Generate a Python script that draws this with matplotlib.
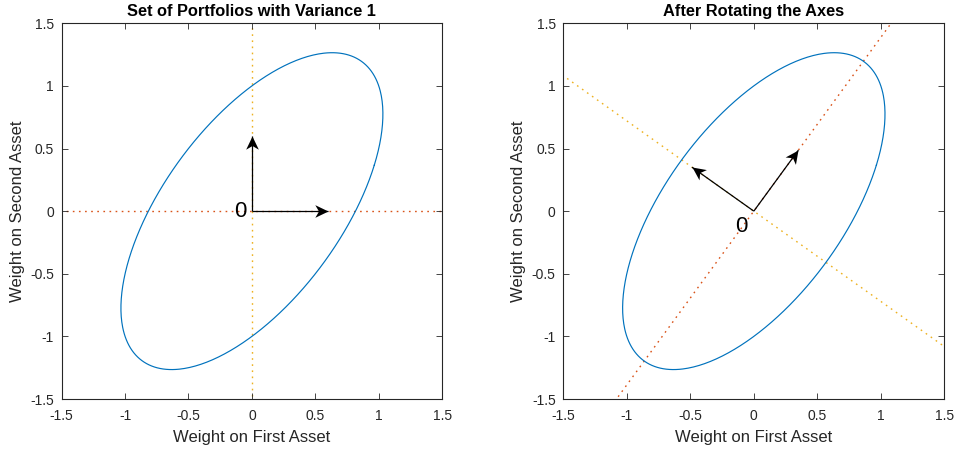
import numpy as np
import matplotlib
matplotlib.use("Agg")
import matplotlib.pyplot as plt
from matplotlib.markers import MarkerStyle
from matplotlib.path import Path
from matplotlib.transforms import Affine2D

plt.rcParams['font.family'] = ['Liberation Sans', 'DejaVu Sans']

# Covariance matrix of the two assets; the curve is every w with w' S w = 1
cov = np.array([[1.5, -0.75],
                [-0.75, 1.0]])
axis_limits = [-1.5, 1.5]
tick_values = [-1.5, -1, -0.5, 0, 0.5, 1, 1.5]
tick_labels = ['-1.5', '-1', '-0.5', '0', '0.5', '1', '1.5']
arrow_length = 0.6
titles = ['Set of Portfolios with Variance 1', 'After Rotating the Axes']
xlabel = 'Weight on First Asset'
ylabel = 'Weight on Second Asset'

BLUE = '#0072BD'
RED = '#D95319'
YELLOW = '#EDB120'
AXC = '#262626'

# ellipse from the inverse square root of the covariance
evals, evecs = np.linalg.eigh(cov)
theta = np.linspace(0, 2 * np.pi, 400)
circle = np.vstack([np.cos(theta), np.sin(theta)])
inv_sqrt = evecs @ np.diag(1 / np.sqrt(evals)) @ evecs.T
ell = inv_sqrt @ circle

# principal directions: small-variance axis first (major axis of the ellipse)
v_major = evecs[:, 0] * np.sign(evecs[1, 0])
v_minor = evecs[:, 1]
if v_minor[1] < 0:
    v_minor = -v_minor

# stealth-style arrow head pointing along +x, tip at origin
head_verts = [(0, 0), (-1.0, 0.48), (-0.72, 0), (-1.0, -0.48), (0, 0)]
head_codes = [Path.MOVETO, Path.LINETO, Path.LINETO, Path.LINETO, Path.CLOSEPOLY]
head_path = Path(head_verts, head_codes)


def draw_arrow(ax, direction):
    d = np.asarray(direction) * arrow_length
    ax.plot([0, d[0]], [0, d[1]], color='k', lw=0.9, zorder=4,
            solid_capstyle='butt')
    ang = np.degrees(np.arctan2(d[1], d[0]))
    m = MarkerStyle(head_path, transform=Affine2D().rotate_deg(ang))
    ax.plot([d[0]], [d[1]], marker=m, markersize=19, color='k',
            markeredgewidth=0, linestyle='none', zorder=5)


def style_axes(ax, title):
    ax.set_xlim(axis_limits)
    ax.set_ylim(axis_limits)
    ax.set_xticks(tick_values)
    ax.set_xticklabels(tick_labels)
    ax.set_yticks(tick_values)
    ax.set_yticklabels(tick_labels)
    ax.tick_params(direction='in', top=True, right=True, length=4,
                   width=0.6, colors=AXC, labelsize=10)
    ax.tick_params(axis='x', pad=7)
    ax.tick_params(axis='y', pad=5.5)
    for s in ax.spines.values():
        s.set_color(AXC)
        s.set_linewidth(0.8)
    ax.set_xlabel(xlabel, fontsize=12, color=AXC, labelpad=5.5)
    ax.set_ylabel(ylabel, fontsize=12, color=AXC, labelpad=4)
    ax.set_title(title, fontsize=11.8, fontweight='bold', color='k', pad=5)


fig = plt.figure(figsize=(9.56, 4.5), dpi=100)
ax1 = fig.add_axes([0.0645, 0.1133, 0.398, 0.835])
ax2 = fig.add_axes([0.5892, 0.1133, 0.3986, 0.835])

span = np.array(axis_limits) * 3
dots = (1.2, 3.2)

# left panel: original coordinate axes
ax1.plot(span, [0, 0], color=RED, lw=1, dashes=dots, zorder=1)
ax1.plot([0, 0], span, color=YELLOW, lw=1, dashes=dots, zorder=1)
ax1.plot(ell[0], ell[1], color=BLUE, lw=0.85, zorder=2)
draw_arrow(ax1, [1, 0])
draw_arrow(ax1, [0, 1])
ax1.text(-0.09, 0, '0', fontsize=16, ha='center', va='center', color='k')
style_axes(ax1, titles[0])

# right panel: axes rotated onto the principal directions
ax2.plot(span * v_major[0], span * v_major[1], color=RED, lw=1,
         dashes=dots, zorder=1)
ax2.plot(span * v_minor[0], span * v_minor[1], color=YELLOW, lw=1,
         dashes=dots, zorder=1)
ax2.plot(ell[0], ell[1], color=BLUE, lw=0.85, zorder=2)
draw_arrow(ax2, v_major)
draw_arrow(ax2, v_minor)
ax2.text(-0.095, -0.12, '0', fontsize=16, ha='center', va='center', color='k')
style_axes(ax2, titles[1])

fig.savefig('out.png', dpi=100)
